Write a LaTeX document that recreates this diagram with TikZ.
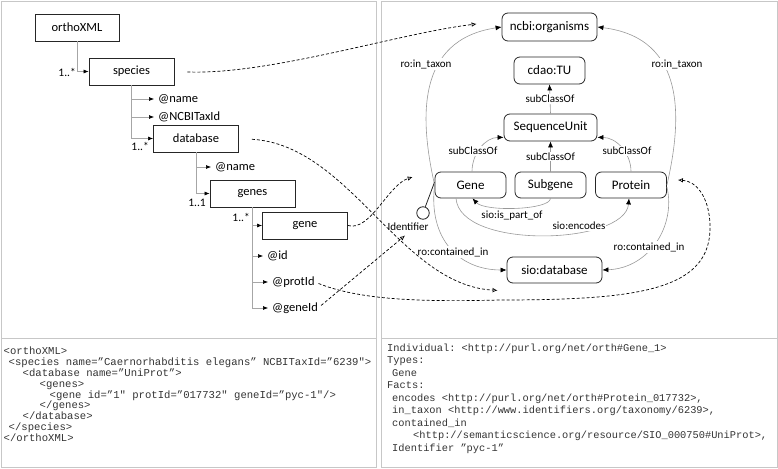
\documentclass[tikz,border=0pt]{standalone}
\usepackage{fontspec}
\setmainfont{Carlito}
\newfontfamily\codefont{Liberation Mono}
\usetikzlibrary{arrows.meta,calc}
\frenchspacing
\begin{document}
\begin{tikzpicture}[x=1pt,y=1pt,
  panel/.style={draw=black!22, line width=0.8pt},
  xbox/.style={draw=black!85, line width=0.8pt, minimum width=85pt, minimum height=27pt, inner sep=0pt, font=\fontsize{12.5}{14}\selectfont},
  obox/.style={draw=black!85, line width=0.8pt, rounded corners=6pt, minimum width=71pt, minimum height=26pt, inner sep=0pt, font=\fontsize{13}{15}\selectfont},
  attr/.style={anchor=west, inner sep=0pt, font=\fontsize{12.5}{14}\selectfont},
  mult/.style={anchor=east, inner sep=0pt, font=\fontsize{11.5}{13}\selectfont},
  lbl/.style={fill=white, inner sep=1pt, font=\fontsize{11}{13}\selectfont},
  tree/.style={draw=black!35, line width=0.6pt, -{Latex[black,length=5pt,width=4pt]}},
  treeattr/.style={tree, shorten >=4pt},
  rel/.style={draw=black!40, line width=0.6pt, -{Latex[black,length=6pt,width=5pt]}},
  map/.style={draw=black, line width=0.7pt, dash pattern=on 3pt off 2pt, -{Latex[open,length=5pt,width=4.5pt]}},
  code/.style={anchor=base west, inner sep=0pt, text=black!80, font=\codefont\fontsize{10.6}{11}\selectfont},
  codeb/.style={anchor=base west, inner sep=0pt, text=black!80, font=\codefont\fontsize{10.35}{11}\selectfont},
]
\path[use as bounding box] (0,0) rectangle (778,-468);

% panels
\draw[panel] (1,-1) rectangle (376,-338.5);
\draw[panel] (381,-1) rectangle (777,-338.5);
\draw[panel] (1,-338.5) rectangle (376,-467);
\draw[panel] (381,-338.5) rectangle (777,-467);

% ---------- XML tree ----------
\node[xbox, minimum width=84pt] (ortho) at (77,-27.5) {orthoXML};
\node[xbox] (species) at (131.5,-71.5) {species};
\node[xbox] (database) at (196,-138.5) {database};
\node[xbox] (genes) at (252.5,-193.5) {genes};
\node[xbox] (gene) at (305,-225.5) {gene};

\node[attr] (spname) at (158,-99) {@name};
\node[attr] (sptax) at (158,-117) {@NCBITaxId};
\node[attr] (dbname) at (215,-167) {@name};
\node[attr] (gid) at (267,-256) {@id};
\node[attr] (gprot) at (272,-282) {@protId};
\node[attr] (ggene) at (272,-308) {@geneId};

\node[mult] (m1) at (76,-72) {1..*};
\node[mult] (m2) at (149,-146.5) {1..*};
\node[mult] (m3) at (206,-203) {1..1};
\node[mult] (m4) at (250,-217) {1..*};

\draw[tree] (ortho.south) |- (species.west);
\draw[treeattr] (species.south) |- (spname.west);
\draw[treeattr] (species.south) |- (sptax.west);
\draw[tree] (species.south) |- (database.west);
\draw[treeattr] (database.south) |- (dbname.west);
\draw[tree] (database.south) |- (genes.west);
\draw[tree] (genes.south) |- (gene.west);
\draw[treeattr] (genes.south) |- (gid.west);
\draw[treeattr] (genes.south) |- (gprot.west);
\draw[treeattr] (genes.south) |- (ggene.west);

% ---------- ontology ----------
\node[obox, minimum width=95pt, minimum height=28pt] (org) at (549.5,-27) {ncbi:organisms};
\node[obox, minimum height=27pt] (tu) at (549.5,-70.5) {cdao:TU};
\node[obox, minimum width=93pt, minimum height=27pt] (su) at (550.5,-127.5) {SequenceUnit};
\node[obox] (Gene) at (470.5,-185) {Gene};
\node[obox] (Sub) at (550.5,-185) {Subgene};
\node[obox] (Prot) at (631,-185) {Protein};
\node[obox, minimum width=95pt] (sdb) at (554.5,-270) {sio:database};

\node[circle, draw=black!85, fill=white, line width=0.8pt, minimum size=12.5pt, inner sep=0pt] (idc) at (423,-213) {};
\node[inner sep=1pt, font=\fontsize{11}{13}\selectfont] (idl) at (408,-226.5) {Identifier};
\coordinate (gidp) at ($(Gene.west)+(0,3)$);
\draw[black!85, line width=0.8pt] (idc) -- (gidp);

% subClassOf
\draw[rel] (Sub.north) -- (su.south) node[lbl, midway] (lsc2) {subClassOf};
\draw[rel] (su.north) -- (tu.south) node[lbl, midway] (lsc0) {subClassOf};
\coordinate (suL) at ($(su.south west)+(0,4)$);
\coordinate (suR) at ($(su.south east)+(0,4)$);
\draw[rel] ($(Gene.north)+(1.5,0)$) to[out=90,in=180] (suL);
\draw[rel] (Prot.north) to[out=90,in=0] (suR);
\node[lbl] (lsc1) at (473,-151) {subClassOf};
\node[lbl] (lsc3) at (627,-151) {subClassOf};

% in_taxon
\draw[rel] (Gene.west) .. controls (420,-120) and (415,-40) .. (org.west);
\draw[rel] (Prot.east) .. controls (682,-120) and (687,-38) .. (org.east);
\node[lbl] (lit1) at (426,-64) {ro:in\_taxon};
\node[lbl] (lit2) at (677,-64) {ro:in\_taxon};

% contained_in
\draw[rel] (Gene.west) .. controls (428,-240) and (460,-270) .. (sdb.west);
\draw[rel] ($(Prot.east)+(0,-2)$) .. controls (676,-225) and (650,-268) .. (sdb.east);
\node[lbl] (lci1) at (453,-252) {ro:contained\_in};
\node[lbl] (lci2) at (649,-247) {ro:contained\_in};

% is_part_of / encodes
\draw[rel] (Sub.south) .. controls (550,-210) and (485,-212) .. ($(Gene.south)+(2,0)$);
\draw[rel] ($(Gene.south)+(-14.5,0)$) .. controls (460,-250) and (625,-245) .. ($(Prot.south)+(-2,0)$);
\node[lbl] (lpart) at (512,-216) {sio:is\_part\_of};
\node[lbl] (lenc) at (579,-226) {sio:encodes};

% ---------- mappings ----------
\coordinate (orgIn) at ($(org.west)+(-25,3)$);
\coordinate (sdbIn) at ($(sdb.south west)+(-9,-7)$);
\coordinate (geneIn) at ($(Gene.west)+(-22,8)$);
\coordinate (idIn) at ($(idl.south)+(-3,-4)$);
\coordinate (protIn) at ($(Prot.east)+(11,5)$);
\draw[map, shorten <=13pt] (species.east) .. controls (270,-75) and (400,-33) .. (orgIn);
\draw[map, shorten <=13pt] (database.east) .. controls (350,-145) and (400,-285) .. (sdbIn);
\draw[map] (gene.east) .. controls (370,-232) and (388,-185) .. (geneIn);
\draw[map, shorten <=4pt] (ggene.east) -- (idIn);
\draw[map, shorten <=4pt] (gprot.east) .. controls (360,-300) and (420,-302) .. (500,-300)
   .. controls (640,-300) and (712,-290) .. (710,-225)
   .. controls (709,-195) and (695,-181) .. (protIn);

% ---------- XML code ----------
\node[code] (x1) at (3.5,-354.5) {<orthoXML>};
\node[code] (x2) at (8.5,-365.4) {<species name=”Caernorhabditis elegans” NCBITaxId=”6239">};
\node[code] (x3) at (22.5,-376.3) {<database name=”UniProt”>};
\node[code] (x4) at (39.5,-387.1) {<genes>};
\node[code] (x5) at (49.5,-398) {<gene id=”1" protId=”017732" geneId=”pyc-1"/>};
\node[code] (x6) at (39.5,-408.9) {</genes>};
\node[code] (x7) at (22.5,-419.8) {</database>};
\node[code] (x8) at (8.5,-430.6) {</species>};
\node[code] (x9) at (3.5,-441.5) {</orthoXML>};

% ---------- OWL code ----------
\node[codeb] (o1) at (387,-351.2) {Individual: <http://purl.org/net/orth\#Gene\_1>};
\node[codeb] (o2) at (387,-363.7) {Types:};
\node[codeb] (o3) at (392,-376.2) {Gene};
\node[codeb] (o4) at (387,-388.7) {Facts:};
\node[codeb] (o5) at (392,-401.2) {encodes <http://purl.org/net/orth\#Protein\_017732>,};
\node[codeb] (o6) at (392,-413.7) {in\_taxon <http://www.identifiers.org/taxonomy/6239>,};
\node[codeb] (o7) at (392,-426.2) {contained\_in};
\node[codeb] (o8) at (413,-438.7) {<http://semanticscience.org/resource/SIO\_000750\#UniProt>,};
\node[codeb] (o9) at (392,-451.2) {Identifier ”pyc-1”};
\end{tikzpicture}
\end{document}
